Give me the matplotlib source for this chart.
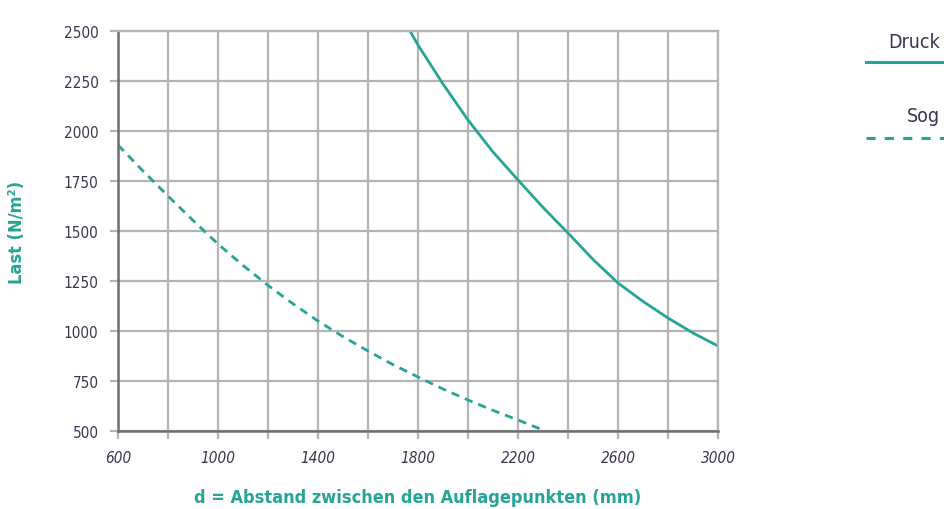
import matplotlib
matplotlib.use("Agg")
import matplotlib.pyplot as plt
from matplotlib.lines import Line2D
from matplotlib import font_manager

# values
druck_d = [1768, 1800, 1900, 2000, 2100, 2200, 2300, 2400, 2500, 2600, 2700, 2800, 2900, 3000]
druck_last = [2500, 2430, 2235, 2055, 1895, 1755, 1618, 1490, 1358, 1240, 1148, 1065, 990, 925]

sog_d = [600, 700, 800, 900, 1000, 1100, 1200, 1300, 1400, 1500, 1600, 1700, 1800, 1900, 2000, 2100, 2200, 2300]
sog_last = [1930, 1800, 1675, 1553, 1435, 1328, 1228, 1136, 1050, 972, 900, 832, 770, 710, 655, 603, 555, 505]

x_ticks = list(range(600, 3001, 200))
x_labels = [str(v) if (v - 600) % 400 == 0 else "" for v in x_ticks]
y_ticks = list(range(500, 2501, 250))

teal = "#26a495"
grid_col = "#b4b4b4"
text_col = "#3a3550"

stretched = [f for f in font_manager.fontManager.ttflist
             if f.name == "DejaVu Sans" and f.stretch == "condensed"]
plt.rcParams["font.family"] = ["DejaVu Sans"]
if stretched:
    plt.rcParams["font.stretch"] = "condensed"

fig = plt.figure(figsize=(9.44, 5.10), dpi=100)
ax = fig.add_axes([118 / 944, 78 / 510, 600 / 944, 400 / 510])

ax.plot(druck_d, druck_last, color=teal, lw=2.0, solid_capstyle="butt")
ax.plot(sog_d, sog_last, color=teal, lw=2.0, linestyle=(0, (3, 2.2)))

ax.set_xlim(600, 3000)
ax.set_ylim(500, 2500)
ax.set_xticks(x_ticks)
ax.set_xticklabels(x_labels, fontstyle="italic", fontsize=11, color=text_col)
ax.set_yticks(y_ticks)
ax.set_yticklabels([str(v) for v in y_ticks], fontsize=11, color=text_col)

ax.grid(True, color=grid_col, lw=1.6)
ax.set_axisbelow(True)
for side in ["top", "right"]:
    ax.spines[side].set_color(grid_col)
    ax.spines[side].set_linewidth(1.6)
for side in ["left", "bottom"]:
    ax.spines[side].set_color("#6e6e6e")
    ax.spines[side].set_linewidth(1.8)
ax.tick_params(axis="both", direction="out", length=6, width=1.6, color=grid_col, pad=8)

ax.set_xlabel("d = Abstand zwischen den Auflagepunkten (mm)", fontsize=13,
              fontweight="bold", color=teal, labelpad=16)
ax.set_ylabel("Last (N/m²)", fontsize=13, fontweight="bold", color=teal, labelpad=27)

# legend at the right
fig.text(940 / 944, 1 - 42 / 510, "Druck", ha="right", va="center", fontsize=14, color=text_col)
fig.add_artist(Line2D([866 / 944, 944 / 944], [1 - 63 / 510] * 2, color=teal, lw=2.2,
                      transform=fig.transFigure))
fig.text(940 / 944, 1 - 117 / 510, "Sog", ha="right", va="center", fontsize=14, color=text_col)
fig.add_artist(Line2D([866 / 944, 944 / 944], [1 - 139 / 510] * 2, color=teal, lw=2.2,
                      linestyle=(0, (3, 3)), transform=fig.transFigure))

fig.savefig("out.png", dpi=100)
